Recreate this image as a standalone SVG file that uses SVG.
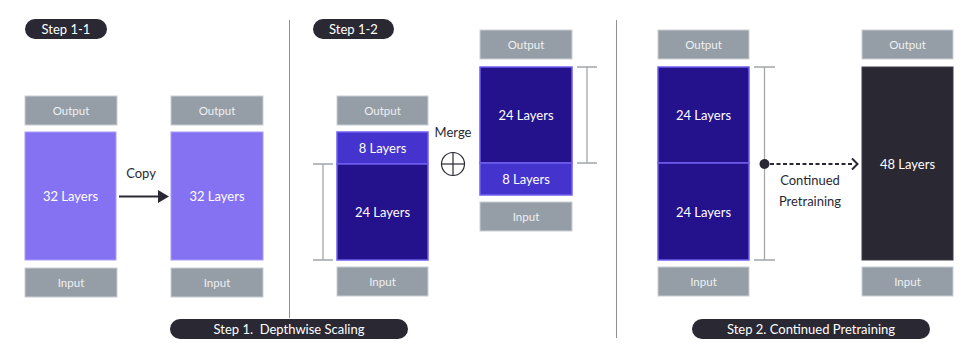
<svg xmlns="http://www.w3.org/2000/svg" width="965" height="354" viewBox="0 0 965 354">
<style>
.io{fill:#959ea6;stroke:#c9ced3;stroke-width:1}
.iot{fill:#eef0f2;font-family:Lato,"Open Sans",sans-serif;font-size:11.5px;text-anchor:middle}
.lt{fill:#ffffff;font-family:Lato,"Open Sans",sans-serif;font-size:13px;text-anchor:middle}
.light{fill:#8572f2;stroke:#a99cf6;stroke-width:1}
.dark{fill:#24128c;stroke:#6f5ff0;stroke-width:1.5}
.mid{fill:#4433cc;stroke:#7060ee;stroke-width:1.5}
.black{fill:#2a2833;stroke:#3c3a45;stroke-width:1}
.pill{fill:#2a2833}
.pt{fill:#ffffff;font-family:Lato,"Open Sans",sans-serif;font-size:13px;text-anchor:middle;white-space:pre}
.lbl{fill:#2a2833;font-family:Lato,"Open Sans",sans-serif;font-size:13px;text-anchor:middle}
.br{stroke:#a3a7ab;stroke-width:1.3;fill:none}
.div{stroke:#8e9296;stroke-width:1}
</style>
<g id="dividers">
<line class="div" x1="289.5" y1="20" x2="289.5" y2="318"/>
<line class="div" x1="616.5" y1="20" x2="616.5" y2="338"/>
</g>
<g id="pill-step11"><rect class="pill" x="25" y="19" width="82" height="20" rx="10"/><text class="pt" x="66" y="34">Step 1-1</text></g>
<g id="pill-step12"><rect class="pill" x="313" y="19" width="81" height="20" rx="10"/><text class="pt" x="353.5" y="34">Step 1-2</text></g>
<g id="pill-step1"><rect class="pill" x="170" y="319" width="238" height="20" rx="10"/><text class="pt" x="289" y="334" xml:space="preserve">Step 1.  Depthwise Scaling</text></g>
<g id="pill-step2"><rect class="pill" x="692" y="319" width="238" height="20" rx="10"/><text class="pt" x="811" y="334">Step 2. Continued Pretraining</text></g>

<g id="col1">
<rect class="io" x="25" y="96" width="92" height="29"/><text class="iot" x="71" y="114.5">Output</text>
<rect class="light" x="25" y="132" width="91" height="128"/><text class="lt" x="70.5" y="201">32 Layers</text>
<rect class="io" x="25" y="268" width="92" height="29"/><text class="iot" x="71" y="286.5">Input</text>
</g>
<g id="col2">
<rect class="io" x="171" y="96" width="92" height="29"/><text class="iot" x="217" y="114.5">Output</text>
<rect class="light" x="171" y="132" width="92" height="128"/><text class="lt" x="217" y="201">32 Layers</text>
<rect class="io" x="171" y="268" width="92" height="29"/><text class="iot" x="217" y="286.5">Input</text>
</g>
<g id="col3">
<rect class="io" x="337" y="96" width="91" height="29"/><text class="iot" x="382.5" y="114.5">Output</text>
<rect class="mid" x="337" y="132" width="91" height="32"/><text class="lt" x="382.5" y="152.5">8 Layers</text>
<rect class="dark" x="337" y="164" width="91" height="96"/><text class="lt" x="382.5" y="217">24 Layers</text>
<rect class="io" x="337" y="267" width="91" height="29"/><text class="iot" x="382.5" y="285.5">Input</text>
</g>
<g id="col4">
<rect class="io" x="480" y="30" width="92" height="29"/><text class="iot" x="526" y="48.5">Output</text>
<rect class="dark" x="480" y="67" width="92" height="96"/><text class="lt" x="526" y="120">24 Layers</text>
<rect class="mid" x="480" y="163" width="92" height="32"/><text class="lt" x="526" y="184">8 Layers</text>
<rect class="io" x="480" y="202" width="92" height="29"/><text class="iot" x="526" y="220.5">Input</text>
</g>
<g id="col5">
<rect class="io" x="658" y="30" width="91" height="29"/><text class="iot" x="703.5" y="48.5">Output</text>
<rect class="dark" x="658" y="67" width="91" height="96"/><text class="lt" x="703.5" y="120">24 Layers</text>
<rect class="dark" x="658" y="163" width="91" height="97"/><text class="lt" x="703.5" y="217">24 Layers</text>
<rect class="io" x="658" y="267" width="91" height="29"/><text class="iot" x="703.5" y="285.5">Input</text>
</g>
<g id="col6">
<rect class="io" x="862" y="30" width="91" height="29"/><text class="iot" x="907.5" y="48.5">Output</text>
<rect class="black" x="862" y="67" width="91" height="193"/><text class="lt" x="907.5" y="168.5">48 Layers</text>
<rect class="io" x="862" y="267" width="91" height="29"/><text class="iot" x="907.5" y="285.5">Input</text>
</g>
<g id="merge">
<text class="lbl" x="453" y="137">Merge</text>
<circle cx="453" cy="164" r="11.5" fill="none" stroke="#2a2833" stroke-width="1.2"/>
<line x1="441.5" y1="164" x2="464.5" y2="164" stroke="#2a2833" stroke-width="1.2"/>
<line x1="453" y1="152.5" x2="453" y2="175.5" stroke="#2a2833" stroke-width="1.2"/>
</g>
<g id="connectors">
<line x1="119" y1="196.5" x2="160" y2="196.5" stroke="#2a2833" stroke-width="2"/>
<polygon points="158,190 169,196.5 158,203" fill="#2a2833"/>
<text class="lbl" x="141" y="178">Copy</text>
<path class="br" d="M313 164H333M323 164V260M313 260H333"/>
<path class="br" d="M577 67H597M587 67V163M577 163H597"/>
<path class="br" d="M754 67H775M764.5 67V260M754 260H775"/>
<circle cx="764.5" cy="164" r="5" fill="#2a2833"/>
<line x1="770" y1="164" x2="854" y2="164" stroke="#2a2833" stroke-width="2" stroke-dasharray="4,2.5"/>
<path d="M852 158.5L857.5 164L852 169.5" fill="none" stroke="#2a2833" stroke-width="2"/>
<text class="lbl" x="810" y="185">Continued</text>
<text class="lbl" x="810" y="206">Pretraining</text>
</g>
</svg>
